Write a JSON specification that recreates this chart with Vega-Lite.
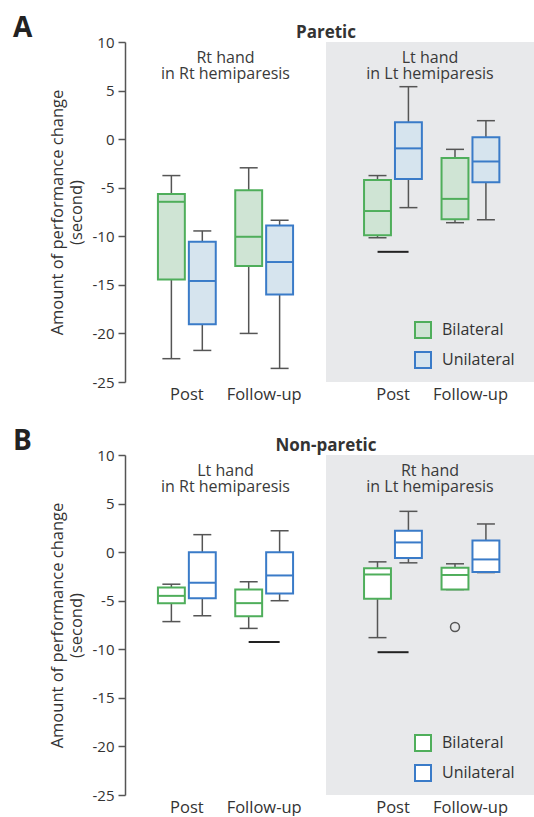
{
  "$schema": "https://vega.github.io/schema/vega-lite/v6.json",
  "padding": {"left": 13, "top": 15, "right": 0, "bottom": 0},
  "config": {"font": "Open Sans", "view": {"stroke": null}, "tick": {"opacity": 1}},
  "datasets": {
    "boxes": [
      {"panel": "Paretic", "patients": "Rt hemiparesis", "time": "Post", "type": "Bilateral", "min": -22.6, "q1": -14.45, "median": -6.45, "q3": -5.65, "max": -3.75},
      {"panel": "Paretic", "patients": "Rt hemiparesis", "time": "Post", "type": "Unilateral", "min": -21.75, "q1": -19.05, "median": -14.6, "q3": -10.55, "max": -9.45},
      {"panel": "Paretic", "patients": "Rt hemiparesis", "time": "Follow-up", "type": "Bilateral", "min": -20.0, "q1": -13.05, "median": -10.05, "q3": -5.25, "max": -2.95},
      {"panel": "Paretic", "patients": "Rt hemiparesis", "time": "Follow-up", "type": "Unilateral", "min": -23.6, "q1": -16.0, "median": -12.65, "q3": -8.9, "max": -8.35},
      {"panel": "Paretic", "patients": "Lt hemiparesis", "time": "Post", "type": "Bilateral", "min": -10.15, "q1": -9.9, "median": -7.4, "q3": -4.2, "max": -3.75},
      {"panel": "Paretic", "patients": "Lt hemiparesis", "time": "Post", "type": "Unilateral", "min": -7.05, "q1": -4.1, "median": -0.95, "q3": 1.75, "max": 5.4},
      {"panel": "Paretic", "patients": "Lt hemiparesis", "time": "Follow-up", "type": "Bilateral", "min": -8.6, "q1": -8.25, "median": -6.15, "q3": -1.95, "max": -1.05},
      {"panel": "Paretic", "patients": "Lt hemiparesis", "time": "Follow-up", "type": "Unilateral", "min": -8.3, "q1": -4.45, "median": -2.3, "q3": 0.2, "max": 1.9},
      {"panel": "Non-paretic", "patients": "Rt hemiparesis", "time": "Post", "type": "Bilateral", "min": -7.15, "q1": -5.25, "median": -4.5, "q3": -3.65, "max": -3.3},
      {"panel": "Non-paretic", "patients": "Rt hemiparesis", "time": "Post", "type": "Unilateral", "min": -6.55, "q1": -4.75, "median": -3.15, "q3": 0.0, "max": 1.8},
      {"panel": "Non-paretic", "patients": "Rt hemiparesis", "time": "Follow-up", "type": "Bilateral", "min": -7.85, "q1": -6.6, "median": -5.25, "q3": -3.85, "max": -3.05},
      {"panel": "Non-paretic", "patients": "Rt hemiparesis", "time": "Follow-up", "type": "Unilateral", "min": -5.0, "q1": -4.25, "median": -2.4, "q3": 0.0, "max": 2.2},
      {"panel": "Non-paretic", "patients": "Lt hemiparesis", "time": "Post", "type": "Bilateral", "min": -8.8, "q1": -4.8, "median": -2.3, "q3": -1.65, "max": -1.0},
      {"panel": "Non-paretic", "patients": "Lt hemiparesis", "time": "Post", "type": "Unilateral", "min": -1.1, "q1": -0.6, "median": 1.0, "q3": 2.2, "max": 4.2},
      {"panel": "Non-paretic", "patients": "Lt hemiparesis", "time": "Follow-up", "type": "Bilateral", "min": -3.85, "q1": -3.85, "median": -2.35, "q3": -1.6, "max": -1.2},
      {"panel": "Non-paretic", "patients": "Lt hemiparesis", "time": "Follow-up", "type": "Unilateral", "min": -2.1, "q1": -2.05, "median": -0.75, "q3": 1.2, "max": 2.9}
    ],
    "lines": [
      {"panel": "Paretic", "patients": "Lt hemiparesis", "time": "Post", "value": -11.6},
      {"panel": "Non-paretic", "patients": "Rt hemiparesis", "time": "Follow-up", "value": -9.25},
      {"panel": "Non-paretic", "patients": "Lt hemiparesis", "time": "Post", "value": -10.3}
    ],
    "outliers": [
      {"panel": "Non-paretic", "patients": "Lt hemiparesis", "time": "Follow-up", "type": "Bilateral", "value": -7.7}
    ],
    "labels": [
      {"panel": "Paretic", "patients": "Rt hemiparesis", "label": "Rt hand\nin Rt hemiparesis"},
      {"panel": "Paretic", "patients": "Lt hemiparesis", "label": "Lt hand\nin Lt hemiparesis"},
      {"panel": "Non-paretic", "patients": "Rt hemiparesis", "label": "Lt hand\nin Rt hemiparesis"},
      {"panel": "Non-paretic", "patients": "Lt hemiparesis", "label": "Rt hand\nin Lt hemiparesis"}
    ]
  },
  "spacing": 25,
  "vconcat": [
    {
      "title": {"text": "A", "anchor": "start", "frame": "bounds", "fontSize": 28, "fontWeight": "bold", "color": "#222", "dx": -36, "dy": 19, "offset": 0},
      "spacing": 0,
      "bounds": "flush",
      "resolve": {"scale": {"x": "independent", "y": "shared", "fill": "independent", "stroke": "independent", "color": "independent"}, "legend": {"fill": "independent", "stroke": "independent", "color": "independent"}},
      "hconcat": [
        {
          "width": 201, "height": 340,
          "title": {"text": "Paretic", "anchor": "end", "frame": "group", "align": "center", "fontSize": 17, "fontWeight": "bold", "color": "#333", "offset": -7},
          "view": {"stroke": null},
          "layer": [
            {"mark": {"type": "rule", "color": "#777", "strokeDash": [6, 4], "strokeWidth": 1.5},
             "encoding": {"y": {"datum": 0, "type": "quantitative", "scale": {"domain": [-25, 10], "nice": false, "zero": false},
               "axis": {"title": ["Amount of performance change", "(second)"], "values": [-25, -20, -15, -10, -5, 0, 5, 10], "labelExpr": "datum.value < 0 ? '-' + abs(datum.value) : '' + datum.value", "grid": false, "domainColor": "#555", "domainWidth": 1.5, "tickColor": "#555", "tickWidth": 1.5, "tickSize": 7, "labelFontSize": 15, "labelColor": "#333", "labelPadding": 4, "titleFontSize": 16.5, "titleColor": "#333", "titleFontWeight": "normal", "titlePadding": 8, "titleLineHeight": 19}}}},
            {"data": {"name": "labels"}, "transform": [{"filter": "datum.panel === 'Paretic' && datum.patients === 'Rt hemiparesis'"}],
             "mark": {"type": "text", "lineBreak": "\n", "baseline": "top", "fontSize": 16, "color": "#3a3a3a", "lineHeight": 16},
             "encoding": {"text": {"field": "label", "type": "nominal"}, "y": {"datum": 9.2, "type": "quantitative"}}},
            {"data": {"name": "boxes"}, "transform": [{"filter": "datum.panel === 'Paretic' && datum.patients === 'Rt hemiparesis'"}],
             "layer": [
               {"mark": {"type": "rule", "color": "#555", "strokeWidth": 1.5},
                "encoding": {"y": {"field": "min", "type": "quantitative"}, "y2": {"field": "max"}}},
               {"mark": {"type": "tick", "color": "#555", "size": 18, "thickness": 1.5, "opacity": 1},
                "encoding": {"y": {"field": "min", "type": "quantitative"}}},
               {"mark": {"type": "tick", "color": "#555", "size": 18, "thickness": 1.5, "opacity": 1},
                "encoding": {"y": {"field": "max", "type": "quantitative"}}},
               {"mark": {"type": "bar", "strokeWidth": 2, "opacity": 1},
                "encoding": {"y": {"field": "q1", "type": "quantitative"}, "y2": {"field": "q3"},
                  "fill": {"field": "type", "type": "nominal", "scale": {"domain": ["Bilateral", "Unilateral"], "range": ["#cfe4d4", "#d6e4ee"]}, "legend": null},
                  "stroke": {"field": "type", "type": "nominal", "scale": {"domain": ["Bilateral", "Unilateral"], "range": ["#4fae5b", "#3a7bc8"]}, "legend": null}}},
               {"mark": {"type": "tick", "size": 27, "thickness": 2, "opacity": 1},
                "encoding": {"y": {"field": "median", "type": "quantitative"},
                  "color": {"field": "type", "type": "nominal", "scale": {"domain": ["Bilateral", "Unilateral"], "range": ["#4fae5b", "#3a7bc8"]}, "legend": null}}}
             ],
             "encoding": {
               "x": {"field": "time", "type": "nominal", "title": null, "scale": {"domain": ["Post", "Follow-up"], "paddingInner": 0, "paddingOuter": 0.3, "align": 0.5},
                 "axis": {"domain": false, "ticks": false, "labelAngle": 0, "labelFontSize": 16.5, "labelColor": "#333", "labelPadding": 4}},
               "xOffset": {"field": "type", "type": "nominal", "scale": {"domain": ["Bilateral", "Unilateral"], "paddingInner": 0.13, "paddingOuter": 0.315}}
             }}
          ]
        },
        {
          "width": 208, "height": 340,
          "view": {"fill": "#e8e9eb", "stroke": null},
          "layer": [
            {"mark": {"type": "rule", "color": "#777", "strokeDash": [6, 4], "strokeWidth": 1.5},
             "encoding": {"y": {"datum": 0, "type": "quantitative", "scale": {"domain": [-25, 10], "nice": false, "zero": false}, "axis": null}}},
            {"data": {"name": "labels"}, "transform": [{"filter": "datum.panel === 'Paretic' && datum.patients === 'Lt hemiparesis'"}],
             "mark": {"type": "text", "lineBreak": "\n", "baseline": "top", "fontSize": 16, "color": "#3a3a3a", "lineHeight": 16},
             "encoding": {"text": {"field": "label", "type": "nominal"}, "y": {"datum": 9.2, "type": "quantitative"}}},
            {"data": {"name": "boxes"}, "transform": [{"filter": "datum.panel === 'Paretic' && datum.patients === 'Lt hemiparesis'"}],
             "layer": [
               {"mark": {"type": "rule", "color": "#555", "strokeWidth": 1.5},
                "encoding": {"y": {"field": "min", "type": "quantitative"}, "y2": {"field": "max"}}},
               {"mark": {"type": "tick", "color": "#555", "size": 18, "thickness": 1.5, "opacity": 1},
                "encoding": {"y": {"field": "min", "type": "quantitative"}}},
               {"mark": {"type": "tick", "color": "#555", "size": 18, "thickness": 1.5, "opacity": 1},
                "encoding": {"y": {"field": "max", "type": "quantitative"}}},
               {"mark": {"type": "bar", "strokeWidth": 2, "opacity": 1},
                "encoding": {"y": {"field": "q1", "type": "quantitative"}, "y2": {"field": "q3"},
                  "fill": {"field": "type", "type": "nominal", "scale": {"domain": ["Bilateral", "Unilateral"], "range": ["#cfe4d4", "#d6e4ee"]},
                    "legend": {"orient": "none", "legendX": 88, "legendY": 279, "title": null, "symbolType": "square", "symbolSize": 256, "symbolStrokeWidth": 2, "labelFontSize": 16, "labelColor": "#333", "labelOffset": 10, "rowPadding": 6, "padding": 0}},
                  "stroke": {"field": "type", "type": "nominal", "scale": {"domain": ["Bilateral", "Unilateral"], "range": ["#4fae5b", "#3a7bc8"]},
                    "legend": {"orient": "none", "legendX": 88, "legendY": 279, "title": null, "symbolType": "square", "symbolSize": 256, "symbolStrokeWidth": 2, "labelFontSize": 16, "labelColor": "#333", "labelOffset": 10, "rowPadding": 6, "padding": 0}}}},
               {"mark": {"type": "tick", "size": 27, "thickness": 2, "opacity": 1},
                "encoding": {"y": {"field": "median", "type": "quantitative"},
                  "color": {"field": "type", "type": "nominal", "scale": {"domain": ["Bilateral", "Unilateral"], "range": ["#4fae5b", "#3a7bc8"]}, "legend": null}}}
             ],
             "encoding": {
               "x": {"field": "time", "type": "nominal", "title": null, "scale": {"domain": ["Post", "Follow-up"], "paddingInner": 0, "paddingOuter": 0.342, "align": 0.534},
                 "axis": {"domain": false, "ticks": false, "labelAngle": 0, "labelFontSize": 16.5, "labelColor": "#333", "labelPadding": 4}},
               "xOffset": {"field": "type", "type": "nominal", "scale": {"domain": ["Bilateral", "Unilateral"], "paddingInner": 0.13, "paddingOuter": 0.315}}
             }},
            {"data": {"name": "lines"}, "transform": [{"filter": "datum.panel === 'Paretic' && datum.patients === 'Lt hemiparesis'"}],
             "mark": {"type": "tick", "color": "#222", "size": 31, "thickness": 2, "opacity": 1},
             "encoding": {"x": {"field": "time", "type": "nominal", "title": null, "scale": {"domain": ["Post", "Follow-up"], "paddingInner": 0, "paddingOuter": 0.342, "align": 0.534},
                 "axis": {"domain": false, "ticks": false, "labelAngle": 0, "labelFontSize": 16.5, "labelColor": "#333", "labelPadding": 4}},
               "y": {"field": "value", "type": "quantitative"}}}
          ]
        }
      ]
    },
    {
      "title": {"text": "B", "anchor": "start", "frame": "bounds", "fontSize": 28, "fontWeight": "bold", "color": "#222", "dx": -36, "dy": 19, "offset": 0},
      "spacing": 0,
      "bounds": "flush",
      "resolve": {"scale": {"x": "independent", "y": "shared", "fill": "independent", "stroke": "independent", "color": "independent"}, "legend": {"fill": "independent", "stroke": "independent", "color": "independent"}},
      "hconcat": [
        {
          "width": 201, "height": 340,
          "title": {"text": "Non-paretic", "anchor": "end", "frame": "group", "align": "center", "fontSize": 17, "fontWeight": "bold", "color": "#333", "offset": -7},
          "view": {"stroke": null},
          "layer": [
            {"mark": {"type": "rule", "color": "#777", "strokeDash": [6, 4], "strokeWidth": 1.5},
             "encoding": {"y": {"datum": 0, "type": "quantitative", "scale": {"domain": [-25, 10], "nice": false, "zero": false},
               "axis": {"title": ["Amount of performance change", "(second)"], "values": [-25, -20, -15, -10, -5, 0, 5, 10], "labelExpr": "datum.value < 0 ? '-' + abs(datum.value) : '' + datum.value", "grid": false, "domainColor": "#555", "domainWidth": 1.5, "tickColor": "#555", "tickWidth": 1.5, "tickSize": 7, "labelFontSize": 15, "labelColor": "#333", "labelPadding": 4, "titleFontSize": 16.5, "titleColor": "#333", "titleFontWeight": "normal", "titlePadding": 8, "titleLineHeight": 19}}}},
            {"data": {"name": "labels"}, "transform": [{"filter": "datum.panel === 'Non-paretic' && datum.patients === 'Rt hemiparesis'"}],
             "mark": {"type": "text", "lineBreak": "\n", "baseline": "top", "fontSize": 16, "color": "#3a3a3a", "lineHeight": 16},
             "encoding": {"text": {"field": "label", "type": "nominal"}, "y": {"datum": 9.2, "type": "quantitative"}}},
            {"data": {"name": "boxes"}, "transform": [{"filter": "datum.panel === 'Non-paretic' && datum.patients === 'Rt hemiparesis'"}],
             "layer": [
               {"mark": {"type": "rule", "color": "#555", "strokeWidth": 1.5},
                "encoding": {"y": {"field": "min", "type": "quantitative"}, "y2": {"field": "max"}}},
               {"mark": {"type": "tick", "color": "#555", "size": 18, "thickness": 1.5, "opacity": 1},
                "encoding": {"y": {"field": "min", "type": "quantitative"}}},
               {"mark": {"type": "tick", "color": "#555", "size": 18, "thickness": 1.5, "opacity": 1},
                "encoding": {"y": {"field": "max", "type": "quantitative"}}},
               {"mark": {"type": "bar", "strokeWidth": 2, "opacity": 1},
                "encoding": {"y": {"field": "q1", "type": "quantitative"}, "y2": {"field": "q3"},
                  "fill": {"field": "type", "type": "nominal", "scale": {"domain": ["Bilateral", "Unilateral"], "range": ["#ffffff", "#ffffff"]}, "legend": null},
                  "stroke": {"field": "type", "type": "nominal", "scale": {"domain": ["Bilateral", "Unilateral"], "range": ["#4fae5b", "#3a7bc8"]}, "legend": null}}},
               {"mark": {"type": "tick", "size": 27, "thickness": 2, "opacity": 1},
                "encoding": {"y": {"field": "median", "type": "quantitative"},
                  "color": {"field": "type", "type": "nominal", "scale": {"domain": ["Bilateral", "Unilateral"], "range": ["#4fae5b", "#3a7bc8"]}, "legend": null}}}
             ],
             "encoding": {
               "x": {"field": "time", "type": "nominal", "title": null, "scale": {"domain": ["Post", "Follow-up"], "paddingInner": 0, "paddingOuter": 0.3, "align": 0.5},
                 "axis": {"domain": false, "ticks": false, "labelAngle": 0, "labelFontSize": 16.5, "labelColor": "#333", "labelPadding": 4}},
               "xOffset": {"field": "type", "type": "nominal", "scale": {"domain": ["Bilateral", "Unilateral"], "paddingInner": 0.13, "paddingOuter": 0.315}}
             }},
            {"data": {"name": "lines"}, "transform": [{"filter": "datum.panel === 'Non-paretic' && datum.patients === 'Rt hemiparesis'"}],
             "mark": {"type": "tick", "color": "#222", "size": 31, "thickness": 2, "opacity": 1},
             "encoding": {"x": {"field": "time", "type": "nominal", "title": null, "scale": {"domain": ["Post", "Follow-up"], "paddingInner": 0, "paddingOuter": 0.3, "align": 0.5},
                 "axis": {"domain": false, "ticks": false, "labelAngle": 0, "labelFontSize": 16.5, "labelColor": "#333", "labelPadding": 4}},
               "y": {"field": "value", "type": "quantitative"}}}
          ]
        },
        {
          "width": 208, "height": 340,
          "view": {"fill": "#e8e9eb", "stroke": null},
          "layer": [
            {"mark": {"type": "rule", "color": "#777", "strokeDash": [6, 4], "strokeWidth": 1.5},
             "encoding": {"y": {"datum": 0, "type": "quantitative", "scale": {"domain": [-25, 10], "nice": false, "zero": false}, "axis": null}}},
            {"data": {"name": "labels"}, "transform": [{"filter": "datum.panel === 'Non-paretic' && datum.patients === 'Lt hemiparesis'"}],
             "mark": {"type": "text", "lineBreak": "\n", "baseline": "top", "fontSize": 16, "color": "#3a3a3a", "lineHeight": 16},
             "encoding": {"text": {"field": "label", "type": "nominal"}, "y": {"datum": 9.2, "type": "quantitative"}}},
            {"data": {"name": "boxes"}, "transform": [{"filter": "datum.panel === 'Non-paretic' && datum.patients === 'Lt hemiparesis'"}],
             "layer": [
               {"mark": {"type": "rule", "color": "#555", "strokeWidth": 1.5},
                "encoding": {"y": {"field": "min", "type": "quantitative"}, "y2": {"field": "max"}}},
               {"mark": {"type": "tick", "color": "#555", "size": 18, "thickness": 1.5, "opacity": 1},
                "encoding": {"y": {"field": "min", "type": "quantitative"}}},
               {"mark": {"type": "tick", "color": "#555", "size": 18, "thickness": 1.5, "opacity": 1},
                "encoding": {"y": {"field": "max", "type": "quantitative"}}},
               {"mark": {"type": "bar", "strokeWidth": 2, "opacity": 1},
                "encoding": {"y": {"field": "q1", "type": "quantitative"}, "y2": {"field": "q3"},
                  "fill": {"field": "type", "type": "nominal", "scale": {"domain": ["Bilateral", "Unilateral"], "range": ["#ffffff", "#ffffff"]},
                    "legend": {"orient": "none", "legendX": 88, "legendY": 279, "title": null, "symbolType": "square", "symbolSize": 256, "symbolStrokeWidth": 2, "labelFontSize": 16, "labelColor": "#333", "labelOffset": 10, "rowPadding": 6, "padding": 0}},
                  "stroke": {"field": "type", "type": "nominal", "scale": {"domain": ["Bilateral", "Unilateral"], "range": ["#4fae5b", "#3a7bc8"]},
                    "legend": {"orient": "none", "legendX": 88, "legendY": 279, "title": null, "symbolType": "square", "symbolSize": 256, "symbolStrokeWidth": 2, "labelFontSize": 16, "labelColor": "#333", "labelOffset": 10, "rowPadding": 6, "padding": 0}}}},
               {"mark": {"type": "tick", "size": 27, "thickness": 2, "opacity": 1},
                "encoding": {"y": {"field": "median", "type": "quantitative"},
                  "color": {"field": "type", "type": "nominal", "scale": {"domain": ["Bilateral", "Unilateral"], "range": ["#4fae5b", "#3a7bc8"]}, "legend": null}}}
             ],
             "encoding": {
               "x": {"field": "time", "type": "nominal", "title": null, "scale": {"domain": ["Post", "Follow-up"], "paddingInner": 0, "paddingOuter": 0.342, "align": 0.534},
                 "axis": {"domain": false, "ticks": false, "labelAngle": 0, "labelFontSize": 16.5, "labelColor": "#333", "labelPadding": 4}},
               "xOffset": {"field": "type", "type": "nominal", "scale": {"domain": ["Bilateral", "Unilateral"], "paddingInner": 0.13, "paddingOuter": 0.315}}
             }},
            {"data": {"name": "lines"}, "transform": [{"filter": "datum.panel === 'Non-paretic' && datum.patients === 'Lt hemiparesis'"}],
             "mark": {"type": "tick", "color": "#222", "size": 31, "thickness": 2, "opacity": 1},
             "encoding": {"x": {"field": "time", "type": "nominal", "title": null, "scale": {"domain": ["Post", "Follow-up"], "paddingInner": 0, "paddingOuter": 0.342, "align": 0.534},
                 "axis": {"domain": false, "ticks": false, "labelAngle": 0, "labelFontSize": 16.5, "labelColor": "#333", "labelPadding": 4}},
               "y": {"field": "value", "type": "quantitative"}}},
            {"data": {"name": "outliers"}, "transform": [{"filter": "datum.panel === 'Non-paretic' && datum.patients === 'Lt hemiparesis'"}],
             "mark": {"type": "point", "filled": false, "color": "#555", "size": 80, "strokeWidth": 1.5, "opacity": 1},
             "encoding": {"x": {"field": "time", "type": "nominal", "title": null, "scale": {"domain": ["Post", "Follow-up"], "paddingInner": 0, "paddingOuter": 0.342, "align": 0.534},
                 "axis": {"domain": false, "ticks": false, "labelAngle": 0, "labelFontSize": 16.5, "labelColor": "#333", "labelPadding": 4}},
               "xOffset": {"field": "type", "type": "nominal", "scale": {"domain": ["Bilateral", "Unilateral"], "paddingInner": 0.13, "paddingOuter": 0.315}},
               "y": {"field": "value", "type": "quantitative"}}}
          ]
        }
      ]
    }
  ]
}
